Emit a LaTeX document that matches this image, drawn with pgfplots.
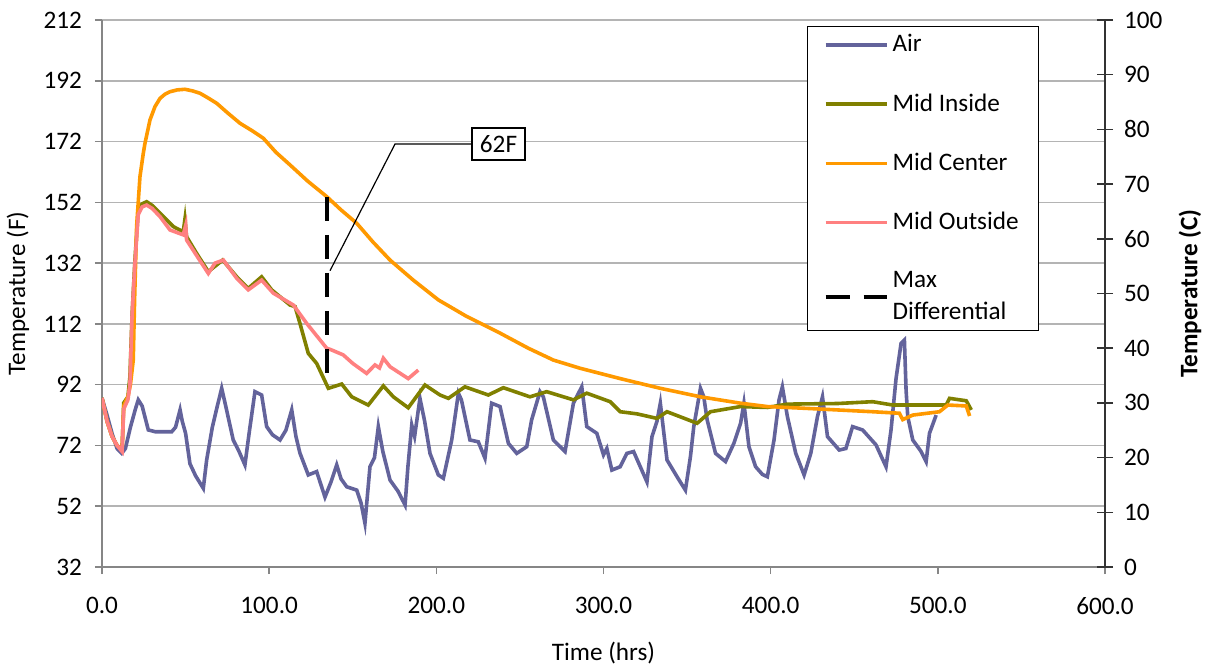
\documentclass[border=0pt]{standalone}
\usepackage{fontspec}
\setmainfont{Carlito}
\usepackage{pgfplots}
\pgfplotsset{compat=1.18}
\definecolor{airc}{RGB}{99,99,155}
\definecolor{insc}{RGB}{128,128,0}
\definecolor{cenc}{RGB}{255,153,0}
\definecolor{outc}{RGB}{255,128,128}
\definecolor{axgray}{RGB}{134,134,134}
\definecolor{gridc}{RGB}{180,180,180}
\begin{document}
\begin{tikzpicture}
\useasboundingbox (-51pt,-52pt) rectangle (556pt,283.5pt);
\begin{axis}[
  at={(0,0)}, anchor=south west,
  scale only axis, width=501.5pt, height=273.5pt,
  xmin=0, xmax=600, ymin=32, ymax=212,
  axis x line*=bottom, axis y line*=left,
  axis line style={axgray, line width=0.8pt, -},
  xtick={0,100,...,600}, ytick={32,52,...,212},
  tick align=outside, major tick length=3.5pt,
  tick style={axgray, line width=0.8pt},
  ymajorgrids, grid style={gridc, line width=0.8pt},
  font=\fontsize{12.6}{15}\selectfont,
  /pgf/number format/assume math mode=true,
  xticklabel style={yshift=-8pt, /pgf/number format/.cd, fixed, fixed zerofill, precision=1},
  yticklabel style={xshift=-3pt},
  xlabel={Time (hrs)},
  xlabel style={at={(axis description cs:0.5,-0.1572)}, anchor=center},
  ylabel={Temperature (F)},
  ylabel style={at={(axis description cs:-0.08375,0.5)}, anchor=center},
  legend image code/.code={\draw[#1] (0pt,0pt) -- (30.5pt,0pt);},
  legend cell align=left,
  legend style={at={(axis description cs:0.7029,0.989)}, anchor=north west,
    draw=black, line width=0.6pt, fill=white,
    inner xsep=8pt, inner ysep=2pt, row sep=15.4pt, column sep=0pt,
    font=\fontsize{12.6}{15.8}\selectfont, align=left},
]
\addplot[airc, line width=1.8pt] coordinates {
(0,87.6) (3,82) (6,76) (9,71) (11.8,69.4) (14,71) (17,78) (20,84) (21.7,87) (24,85)
(27.7,77.1) (32,76.5) (41.7,76.5) (44,78) (46.7,83.7) (48,80) (50,76) (52.6,66) (56,62)
(60.6,57.9) (62.6,67.2) (66,78) (69,85) (71.6,90.8) (74,85) (78.5,73.8) (82,70) (85.5,65.6)
(88,76) (91.5,89.7) (95.5,88.6) (98.5,78.2) (102,75.5) (106.5,73.8) (110,77) (113.5,83.7)
(116,75) (118.4,69.5) (123.4,62.3) (128.4,63.4) (133.4,55) (137,60) (140.4,65.6) (143,61)
(146.4,58.4) (152.4,57.3) (155,53) (157.3,46.4) (160.3,65) (163,68) (165.3,78.2) (168,70)
(172.3,60.6) (177,57) (181.3,52.4) (183,65) (185.3,78.7) (187,75) (190.2,87.5) (193,80)
(196.2,69.4) (201.2,62.3) (204.2,61.2) (209.2,73.8) (213.2,89.2) (215,87) (220.1,73.8)
(225.1,73.2) (229.1,67.8) (233.1,85.9) (238.1,84.8) (243.1,72.7) (248.1,69.4) (254.1,71.6)
(257,80.4) (262,89.7) (264,88) (270,73.8) (277,70) (282,85.9) (287,91.3) (290,78.2) (296,76)
(300,68.9) (302,71) (305,63.9) (310,65) (314,69.4) (318,70) (322,65) (326,60) (329,74.9)
(332,80) (334,85.9) (338,67.2) (344,61.7) (349,57.3) (352,68.3) (354,78.2) (358,90.8)
(360,88) (362,80.4) (367,69.4) (373,66.7) (378,72.7) (382,79.3) (384,85.9) (387,71.6)
(391,65) (395,62.5) (398,61.7) (402,73.8) (405,87) (407,91.3) (410,81.5) (415,69.4)
(420,62.3) (424,69.4) (428,81.5) (431,88) (434,74.9) (441,70.5) (445,71) (449,78.2)
(455,77.1) (463,72.2) (469,65) (472,77.1) (475,94) (478,105.6) (480,106.7) (481,90.2)
(482,81.5) (485,73.8) (490,70) (493,66.7) (495,76) (499,82)
};
\addlegendentry{Air}
\addplot[insc, line width=1.8pt] coordinates {
(0,87.6) (3,80) (6,75) (9,72) (12,70.5) (13,86) (15.5,88) (16.7,94.6) (18,115) (19.7,133)
(21.7,149.5) (24,151.5) (26.7,152.2) (30,151) (34.7,148.4) (42.7,144) (48.6,142.3)
(49.6,146.4) (50.6,140.7) (56.6,135.2) (63.6,129.2) (68.6,131.4) (72.2,133) (80.6,127.5)
(87.5,123.7) (95.5,127.5) (101.5,123.2) (112.5,118.2) (115.5,117.7) (118.4,112.2)
(123.4,102.3) (128.4,99) (135.4,90.8) (143.4,92.2) (149.4,88) (159.3,85.3) (168.3,91.6)
(174.3,88) (183.2,84.4) (193.2,91.9) (202.2,88.6) (207.2,87.5) (217.1,91.3) (231.1,88.6)
(240.1,91) (256,88) (266,89.7) (282,87) (290,89.2) (304,86.4) (310,83.1) (320,82.4)
(332,80.9) (338,83.1) (356,79.3) (364,83.1) (382,84.8) (398,84.5) (410,85.6) (440,85.8)
(461,86.4) (473,85.3) (505,85.3) (507,87.5) (517,86.7) (520,83.7)
};
\addlegendentry{Mid Inside}
\addplot[cenc, line width=1.8pt] coordinates {
(0,87.6) (3,80) (6,75) (9,72) (12,70.5) (13,85) (15.5,88) (17,92) (18.7,100.1) (19.5,120)
(20.7,144) (22.7,160.4) (24.7,168.1) (25.7,171.4) (28.7,179.1) (31.7,183.5) (34.7,186.2)
(37.7,187.6) (40.7,188.4) (45,189) (49.6,189.2) (54,188.7) (58.6,187.9) (63,186.5)
(68.6,184.6) (75,181.5) (82.6,178) (90,175.5) (96.5,173.1) (104,168.5) (112.5,164.3)
(123,159) (134.4,153.9) (143,149.5) (152.4,145.1) (162,139) (172.3,133) (186,126.5)
(201.2,119.9) (218,114.5) (238,109) (255,104) (270,100.1) (286,97.4) (310,94) (334,90.8)
(358,88) (382,85.9) (398,84.8) (421.5,84.2) (461,83.1) (477,82.6) (479,80.5) (485,82)
(501,83.1) (506,85.3) (517,85) (519,81.7)
};
\addlegendentry{Mid Center}
\addplot[outc, line width=1.8pt] coordinates {
(0,87.6) (3,80) (6,75) (9,72) (12,70) (13,84) (15.5,87) (16.7,92) (18,115) (19.7,132)
(21.7,148) (24,150.5) (26.7,151.1) (30,150) (34.7,147.3) (40.7,142.9) (48.6,141.3)
(50.1,144.5) (50.6,139.6) (56.6,134.5) (63.6,128.6) (67.6,132) (72.6,133) (80.6,127)
(87.5,123.2) (95.5,126.4) (102.5,122.1) (114.5,118.2) (122.4,112.2) (134.4,104)
(137,103.5) (144.3,101.8) (150,99) (158.3,95.7) (163.3,98.5) (166,97.5) (168.3,100.7)
(172.3,97.9) (183.2,94) (189.2,96.8)
};
\addlegendentry{Mid Outside}
\addplot[black, line width=2pt, dash pattern=on 12pt off 7pt] coordinates {
(134.6,153.8) (134.6,95.2)
};
\addlegendentry{Max\\Differential}
\draw[black, line width=0.6pt] (axis cs:221.3,171.2) -- (axis cs:175.3,171.2) -- (axis cs:136.4,129.5);
\node[draw=black, line width=0.6pt, fill=white, inner sep=3pt, minimum width=26.5pt, minimum height=16pt,
  font=\fontsize{12.6}{15}\selectfont] at (axis cs:237.2,171.2) {62F};
\end{axis}
\begin{axis}[
  at={(0,0)}, anchor=south west,
  scale only axis, width=501.5pt, height=273.5pt,
  xmin=0, xmax=600, ymin=0, ymax=100,
  axis x line=none, axis y line*=right,
  axis line style={black!80, line width=0.8pt, -},
  ytick={0,10,...,100},
  tick align=center, major tick length=8pt,
  tick style={black!80, line width=0.8pt},
  font=\fontsize{12.6}{15}\selectfont,
  /pgf/number format/assume math mode=true,
  yticklabel style={xshift=2pt},
  ylabel={\bfseries Temperature (C)},
  ylabel style={at={(axis description cs:1.0847,0.5)}, anchor=center},
]
\addplot[draw=none] coordinates {(0,0)};
\end{axis}
\end{tikzpicture}
\end{document}
